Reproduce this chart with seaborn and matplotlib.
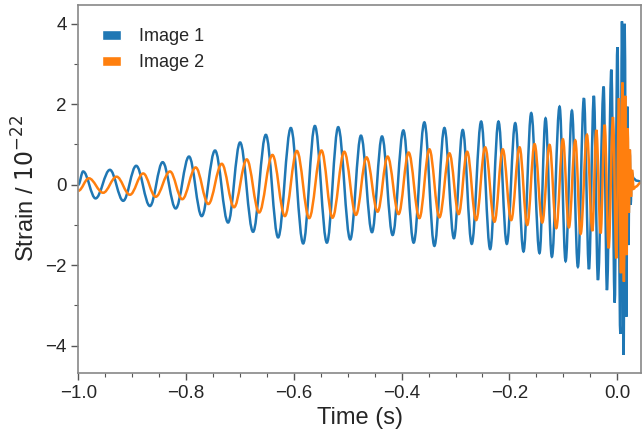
import matplotlib
matplotlib.use("Agg")
import matplotlib.pyplot as plt
import matplotlib.ticker as mticker
from matplotlib.patches import Patch, PathPatch
from matplotlib.path import Path
import numpy as np
import pandas as pd
import seaborn as sns

# extrema of the two lensed images (time in s, strain / 1e-22)
t_image1 = [
    -1.000, -0.9911, -0.9680, -0.9414, -0.9167, -0.8926, -0.8671, -0.8435,
    -0.8193, -0.7946, -0.7710, -0.7463, -0.7221, -0.6998, -0.6757, -0.6520,
    -0.6292, -0.6056, -0.5827, -0.5610, -0.5387, -0.5177, -0.4954, -0.4755,
    -0.4550, -0.4364, -0.4167, -0.3968, -0.3777, -0.3578, -0.3392, -0.3206,
    -0.3030, -0.2866, -0.2699, -0.2524, -0.2357, -0.2203, -0.2048, -0.1892,
    -0.1738, -0.1595, -0.1441, -0.1329, -0.1212, -0.1069, -0.0957, -0.0840,
    -0.0729, -0.0617, -0.0524, -0.0433, -0.0357, -0.0251, -0.0190, -0.0108,
    -0.0046, 0.0004, 0.0059, 0.0089, 0.0121, 0.0139, 0.0171, 0.0191,
    0.0208, 0.0232, 0.0251, 0.0270, 0.0307, 0.0362, 0.0437,
]
h_image1 = [
    0.00, 0.33, -0.34, 0.37, -0.40, 0.47, -0.53, 0.56,
    -0.59, 0.70, -0.78, 0.85, -0.94, 1.05, -1.17, 1.24,
    -1.31, 1.41, -1.46, 1.46, -1.44, 1.43, -1.36, 1.22,
    -1.18, 1.20, -1.25, 1.35, -1.44, 1.55, -1.52, 1.41,
    -1.33, 1.36, -1.47, 1.57, -1.60, 1.57, -1.47, 1.53,
    -1.66, 1.78, -1.70, 1.65, -1.79, 1.94, -1.90, 1.84,
    -2.04, 2.15, -2.10, 2.21, -2.37, 2.44, -2.62, 2.86,
    -2.93, 3.42, -3.71, 4.06, -4.23, 4.00, -3.28, 1.94,
    -1.50, 0.87, -0.50, 0.30, 0.15, 0.10, 0.08,
]

t_image2 = [
    -1.000, -0.9805, -0.9539, -0.9290, -0.9043, -0.8796, -0.8565, -0.8299,
    -0.8071, -0.7822, -0.7587, -0.7338, -0.7110, -0.6874, -0.6645, -0.6398,
    -0.6167, -0.5944, -0.5716, -0.5487, -0.5283, -0.5065, -0.4848, -0.4651,
    -0.4446, -0.4260, -0.4056, -0.3870, -0.3671, -0.3485, -0.3299, -0.3113,
    -0.2941, -0.2784, -0.2617, -0.2450, -0.2277, -0.2123, -0.1967, -0.1812,
    -0.1669, -0.1533, -0.1390, -0.1255, -0.1130, -0.1007, -0.0896, -0.0777,
    -0.0678, -0.0561, -0.0461, -0.0387, -0.0307, -0.0232, -0.0158, -0.0078,
    -0.0015, 0.0033, 0.0071, 0.0099, 0.0125, 0.0149, 0.0173, 0.0195,
    0.0217, 0.0236, 0.0257, 0.0275, 0.0307, 0.0344, 0.0437,
]
h_image2 = [
    -0.15, 0.16, -0.20, 0.20, -0.25, 0.28, -0.30, 0.33,
    -0.36, 0.43, -0.48, 0.52, -0.56, 0.63, -0.69, 0.74,
    -0.78, 0.84, -0.83, 0.85, -0.82, 0.82, -0.75, 0.68,
    -0.67, 0.70, -0.73, 0.80, -0.83, 0.88, -0.81, 0.78,
    -0.73, 0.82, -0.88, 0.93, -0.92, 0.88, -0.88, 0.93,
    -1.00, 1.01, -0.94, 0.99, -1.08, 1.13, -1.06, 1.10,
    -1.22, 1.24, -1.15, 1.36, -1.21, 1.49, -1.58, 1.68,
    -1.83, 2.15, -2.20, 2.54, -2.41, 2.21, -1.75, 1.40,
    -0.70, 0.87, -0.30, 0.37, -0.10, -0.05, 0.05,
]

labels = ["Image 1", "Image 2"]
colors = ["#1f77b4", "#ff7f0e"]


def smooth_path(x, y):
    # cubic bezier between neighbouring extrema, flat tangent at each extremum
    verts = [(x[0], y[0])]
    codes = [Path.MOVETO]
    for i in range(1, len(x)):
        d = 0.363 * (x[i] - x[i - 1])
        verts += [(x[i - 1] + d, y[i - 1]), (x[i] - d, y[i]), (x[i], y[i])]
        codes += [Path.CURVE4] * 3
    return Path(verts, codes)


df = pd.concat([
    pd.DataFrame({"time": t_image1, "strain": h_image1, "image": labels[0]}),
    pd.DataFrame({"time": t_image2, "strain": h_image2, "image": labels[1]}),
])

sns.set_style("ticks")
plt.rcParams["font.family"] = ["Liberation Sans", "DejaVu Sans"]

fig = plt.figure(figsize=(6.42, 4.43), dpi=100)
ax = fig.add_axes([0.122, 0.158, 0.876, 0.831])
sns.lineplot(data=df, x="time", y="strain", hue="image", palette=colors,
             estimator=None, sort=False, linewidth=1.8, legend=False, ax=ax)

# draw the seaborn lines as smooth curves through their extrema
for line in list(ax.lines):
    x, y = line.get_data()
    ax.add_patch(PathPatch(smooth_path(np.asarray(x), np.asarray(y)), fill=False,
                           edgecolor=line.get_color(), lw=line.get_linewidth(),
                           zorder=line.get_zorder()))
    line.remove()

ax.set_xlim(-1.0, 0.0437)
ax.set_ylim(-4.68, 4.47)
ax.xaxis.set_major_locator(mticker.MultipleLocator(0.2))
ax.xaxis.set_minor_locator(mticker.MultipleLocator(0.05))
ax.yaxis.set_major_locator(mticker.MultipleLocator(2))
ax.yaxis.set_minor_locator(mticker.MultipleLocator(1))
ax.tick_params(which="major", length=5, width=1.0, color="#555555", labelsize=13.5)
ax.tick_params(which="minor", length=3, width=0.8, color="#555555")
for s in ax.spines.values():
    s.set_color("#888888")
    s.set_linewidth(1.2)

ax.set_xlabel("Time (s)", fontsize=17)
ax.set_ylabel("Strain / $10^{-22}$", fontsize=17)

handles = [Patch(facecolor=c, label=l) for c, l in zip(colors, labels)]
ax.legend(handles=handles, loc="upper left", frameon=False, fontsize=13,
          handlelength=1.05, handleheight=0.55, handletextpad=1.0,
          borderaxespad=0.9)

fig.savefig("out.png", dpi=100)
